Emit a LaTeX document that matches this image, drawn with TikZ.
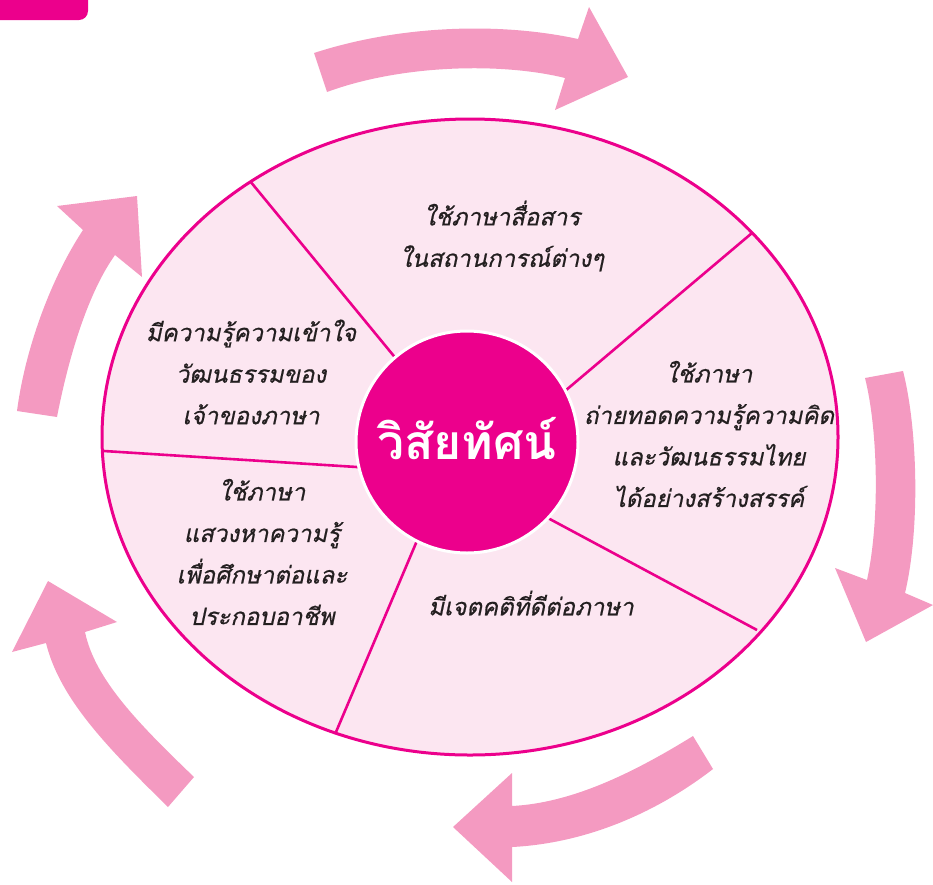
\documentclass[tikz,border=0pt]{standalone}
\usepackage{fontspec}
\newfontfamily\thaifont[Script=Thai, FakeBold=0.6]{Loma}
\newfontfamily\thaititle[Script=Thai]{Loma Bold}
\definecolor{hubpink}{HTML}{EC008C}
\definecolor{palepink}{HTML}{FCE6F1}
\definecolor{arrowpink}{HTML}{F49AC1}
\definecolor{inkgray}{HTML}{231F20}
\tikzset{
  rim/.style={draw=hubpink, line width=3pt},
  divider/.style={draw=hubpink, line width=2.6pt},
  sector/.style={align=center, text=inkgray,
    font=\thaifont\itshape\fontsize{24}{41.5}\selectfont},
  hubnode/.style={circle, fill=hubpink, draw=white, line width=3pt,
    minimum size=222pt, inner sep=0pt, text=white,
    font=\thaititle\fontsize{48}{50}\selectfont},
  bigarrow/.style={fill=arrowpink, draw=none}
}
\begin{document}
\begin{tikzpicture}[x=1pt,y=-1pt]
  \useasboundingbox (0,0) rectangle (933,884);
  % corner tab
  \fill[hubpink, rounded corners=9pt] (-40,-40) rectangle (88,20);

  % arrows round the ring
  \fill[bigarrow] (314,53) .. controls (400,25) and (500,22) .. (578,39)
    -- (589,7) -- (628,77) -- (555,110) -- (565,78)
    .. controls (500,62) and (400,65) .. (327,92) -- cycle;
  \fill[bigarrow] (903,371) .. controls (918,430) and (920,530) .. (905,593)
    -- (933,605) -- (866,642) -- (835,568) -- (867,580)
    .. controls (880,520) and (878,430) .. (865,378) -- cycle;
  \fill[bigarrow] (693,736) .. controls (630,775) and (570,803) .. (512,806)
    -- (512,773) -- (453,827) -- (512,882) -- (512,847)
    .. controls (590,843) and (660,810) .. (713,769) -- cycle;
  \fill[bigarrow] (194,777) .. controls (140,725) and (95,680) .. (85,632)
    -- (117,622) -- (48,581) -- (12,652) -- (46,643)
    .. controls (60,700) and (110,750) .. (168,807) -- cycle;
  \fill[bigarrow] (17,411) .. controls (25,350) and (50,280) .. (83,230)
    -- (57,206) -- (137,196) -- (142,277) -- (115,255)
    .. controls (90,290) and (70,350) .. (57,417) -- cycle;

  % ring
  \path[rim, fill=palepink] (470,437) ellipse [x radius=368pt, y radius=318pt];

  \coordinate (e1) at (250,181);
  \coordinate (e2) at (752,233);
  \coordinate (e3) at (757,630);
  \coordinate (e4) at (336,732);
  \coordinate (e5) at (104,451);
  \coordinate (i1) at (430,400);
  \coordinate (i2) at (520,429);
  \coordinate (i3) at (490,487);
  \coordinate (i4) at (430,510);
  \coordinate (i5) at (420,471);
  \begin{scope}[divider]
    \draw (e1) -- (i1);
    \draw (e2) -- (i2);
    \draw (e3) -- (i3);
    \draw (e4) -- (i4);
    \draw (e5) -- (i5);
  \end{scope}

  \node[hubnode] (hub) at (467,442) {\raisebox{8pt}{วิสัยทัศน์}};

  \node[sector] (talk) at (502,236) {ใช้ภาษาสื่อสาร\\ในสถานการณ์ต่างๆ};
  \node[sector] (convey) at (709,434) {ใช้ภาษา\\ถ่ายทอดความรู้ความคิด\\และวัฒนธรรมไทย\\ได้อย่างสร้างสรรค์};
  \node[sector] (attitude) at (531,603) {มีเจตคติที่ดีต่อภาษา};
  \node[sector] (seek) at (262,552) {ใช้ภาษา\\แสวงหาความรู้\\เพื่อศึกษาต่อและ\\ประกอบอาชีพ};
  \node[sector] (culture) at (251,372) {มีความรู้ความเข้าใจ\\วัฒนธรรมของ\\เจ้าของภาษา};
\end{tikzpicture}
\end{document}
